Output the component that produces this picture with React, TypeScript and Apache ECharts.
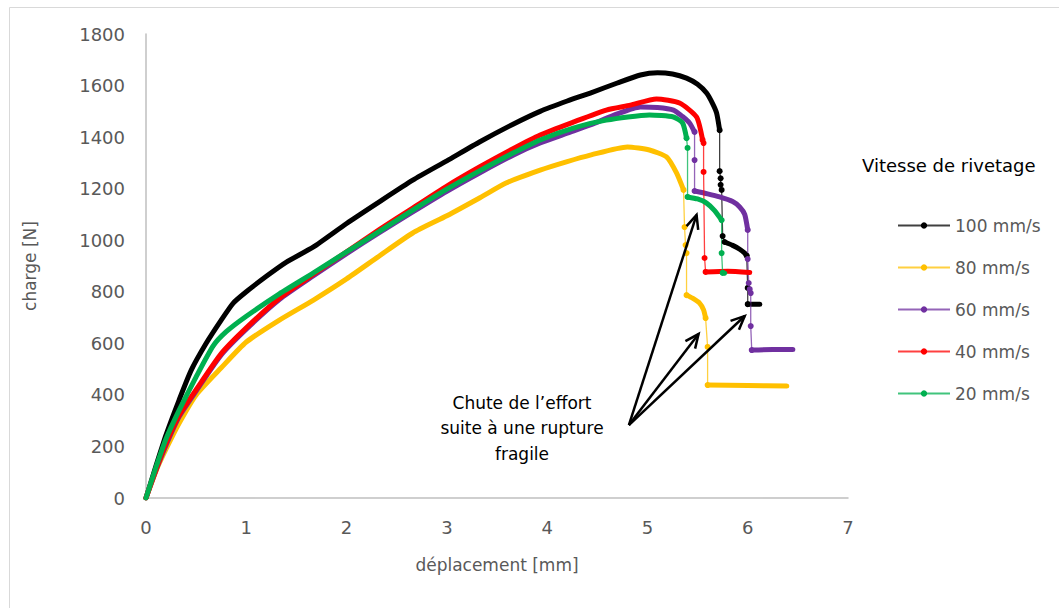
import React, { useEffect, useRef } from "react";
import * as echarts from "echarts";

const FONT = "DejaVu Sans";

const speeds = ["100 mm/s", "80 mm/s", "60 mm/s", "40 mm/s", "20 mm/s"];
const colors = ["#000000", "#FFC000", "#7030A0", "#FF0000", "#00B050"];

// 100 mm/s
const curve100a = [[0,0],[0.1,125],[0.2,245],[0.33,380],[0.45,495],[0.6,600],[0.75,690],[0.87,756],[1.0,800],[1.2,860],[1.4,915],[1.67,974],[2.0,1065],[2.33,1150],[2.66,1233],[3.0,1308],[3.33,1382],[3.66,1450],[3.93,1500],[4.2,1540],[4.43,1571],[4.7,1610],[4.93,1641],[5.1,1650],[5.25,1645],[5.39,1629],[5.5,1605],[5.59,1571],[5.65,1530],[5.69,1493],[5.72,1427]];
const drop100a = [[5.72,1427],[5.72,1268],[5.73,1240],[5.73,1215],[5.74,1195],[5.75,1016],[5.77,993]];
const curve100b = [[5.77,993],[5.85,980],[5.92,965],[5.97,950],[5.99,940]];
const drop100b = [[5.99,940],[6.0,815],[6.0,752]];
const curve100c = [[6.0,752],[6.12,752]];

// 80 mm/s
const curve80a = [[0,0],[0.1,105],[0.2,190],[0.33,290],[0.5,400],[0.75,505],[1.0,605],[1.33,690],[1.67,768],[2.0,850],[2.33,940],[2.66,1028],[3.0,1095],[3.33,1165],[3.59,1222],[3.93,1272],[4.2,1305],[4.43,1330],[4.8,1362],[5.02,1350],[5.19,1323],[5.29,1261],[5.36,1195]];
const drop80a = [[5.36,1195],[5.37,1051],[5.38,981],[5.39,950],[5.39,787]];
const curve80b = [[5.39,787],[5.45,775],[5.52,756],[5.56,730],[5.58,698]];
const drop80b = [[5.58,698],[5.6,586],[5.6,438]];
const curve80c = [[5.6,438],[6.0,436],[6.39,434]];

// 60 mm/s
const curve60a = [[0,0],[0.1,108],[0.2,205],[0.33,315],[0.5,415],[0.75,555],[1.0,655],[1.33,770],[1.67,862],[2.0,948],[2.33,1030],[2.66,1110],[3.0,1190],[3.33,1262],[3.66,1330],[3.93,1377],[4.2,1415],[4.43,1447],[4.7,1490],[4.93,1517],[5.1,1515],[5.26,1505],[5.35,1480],[5.42,1455],[5.47,1420]];
const drop60a = [[5.47,1420],[5.47,1311],[5.47,1191]];
const curve60b = [[5.47,1191],[5.6,1180],[5.72,1168],[5.85,1150],[5.92,1129],[5.97,1100],[6.0,1040]];
const drop60b = [[6.0,1040],[6.0,927],[6.01,834],[6.02,810],[6.03,795],[6.03,667],[6.04,574]];
const curve60c = [[6.04,574],[6.25,576],[6.45,576]];

// 40 mm/s
const curve40a = [[0,0],[0.1,110],[0.2,212],[0.33,320],[0.5,420],[0.75,560],[1.0,660],[1.33,775],[1.67,868],[2.0,955],[2.33,1042],[2.66,1125],[3.0,1210],[3.33,1285],[3.66,1355],[3.93,1408],[4.26,1458],[4.59,1505],[4.83,1524],[5.09,1548],[5.32,1532],[5.49,1478],[5.55,1389]];
const drop40a = [[5.55,1389],[5.56,1377],[5.56,1265],[5.57,931],[5.58,877]];
const curve40b = [[5.58,877],[5.8,880],[6.02,875]];

// 20 mm/s
const curve20a = [[0,0],[0.1,120],[0.2,230],[0.33,340],[0.5,470],[0.67,590],[0.8,645],[1.0,705],[1.33,792],[1.67,873],[2.0,955],[2.33,1035],[2.66,1117],[3.0,1198],[3.33,1270],[3.66,1338],[3.93,1389],[4.26,1435],[4.59,1466],[5.02,1486],[5.26,1478],[5.35,1455],[5.39,1396]];
const drop20a = [[5.39,1396],[5.40,1358],[5.40,1168]];
const curve20b = [[5.40,1168],[5.5,1160],[5.59,1144],[5.67,1115],[5.74,1078]];
const drop20b = [[5.74,1078],[5.74,950],[5.75,873]];
const curve20c = [[5.75,875],[5.77,872]];

const parts100 = [curve100a, drop100a, curve100b, drop100b, curve100c];
const parts80 = [curve80a, drop80a, curve80b, drop80b, curve80c];
const parts60 = [curve60a, drop60a, curve60b, drop60b, curve60c];
const parts40 = [curve40a, drop40a, curve40b];
const parts20 = [curve20a, drop20a, curve20b, drop20b, curve20c];
const allParts = [parts100, parts80, parts60, parts40, parts20];

// annotation
const annotationLines = ["Chute de l\u2019effort", "suite à une rupture", "fragile"];
const arrowFrom = [4.815, 283];
const arrowTips = [[5.49, 1098], [5.51, 636], [5.97, 706]];
const legendTitle = "Vitesse de rivetage";

function buildSeries() {
  const out: any[] = [];
  allParts.forEach((parts, si) => {
    const color = colors[si];
    parts.forEach((p, pi) => {
      if (pi % 2 === 0) {
        out.push({
          name: speeds[si] + "#" + pi,
          type: "line",
          data: p,
          showSymbol: false,
          symbol: "none",
          silent: true,
          smooth: 0.2,
          lineStyle: { color, width: 5, cap: "round", join: "round" },
          itemStyle: { color },
        });
      }
    });
    const path: any[] = [];
    parts.forEach((p, pi) => {
      p.forEach((pt) => {
        path.push(pi % 2 === 1 ? { value: pt, symbol: "circle" } : { value: pt, symbol: "none" });
      });
    });
    out.push({
      name: speeds[si],
      type: "line",
      data: path,
      showSymbol: true,
      symbol: "circle",
      symbolSize: 6,
      lineStyle: { color, width: 1.3, opacity: 0.75 },
      itemStyle: { color },
    });
  });
  out.push({
    type: "custom",
    name: "arrows",
    silent: true,
    data: arrowTips.map((t) => [arrowFrom[0], arrowFrom[1], t[0], t[1]]),
    encode: { x: [0, 2], y: [1, 3] },
    renderItem: (params: any, api: any) => {
      const p0 = api.coord([api.value(0), api.value(1)]);
      const p1 = api.coord([api.value(2), api.value(3)]);
      const ang = Math.atan2(p1[1] - p0[1], p1[0] - p0[0]);
      const L = 15;
      const a = 0.42;
      const h1 = [p1[0] - L * Math.cos(ang - a), p1[1] - L * Math.sin(ang - a)];
      const h2 = [p1[0] - L * Math.cos(ang + a), p1[1] - L * Math.sin(ang + a)];
      return {
        type: "group",
        children: [
          { type: "line", shape: { x1: p0[0], y1: p0[1], x2: p1[0], y2: p1[1] }, style: { stroke: "#000", lineWidth: 2.5 } },
          { type: "polyline", shape: { points: [h1, p1, h2] }, style: { stroke: "#000", lineWidth: 2.5, fill: null } },
        ],
      };
    },
    z: 10,
  });
  return out;
}

export default function App() {
  const ref = useRef<HTMLDivElement>(null);
  useEffect(() => {
    if (!ref.current) return;
    const chart = echarts.init(ref.current, null, { renderer: "svg" });
    const axisLine = { show: true, lineStyle: { color: "#bfbfbf", width: 1.5 } };
    chart.setOption({
      animation: false,
      backgroundColor: "#ffffff",
      grid: { left: 146, right: 211, top: 34, bottom: 110 },
      xAxis: {
        type: "value", min: 0, max: 7, interval: 1,
        axisLine, axisTick: { show: false }, splitLine: { show: false },
        axisLabel: { color: "#595959", fontSize: 18, margin: 20, fontFamily: FONT },
        name: "déplacement [mm]", nameLocation: "middle", nameGap: 58,
        nameTextStyle: { color: "#595959", fontSize: 17, fontFamily: FONT },
      },
      yAxis: {
        type: "value", min: 0, max: 1800, interval: 200,
        axisLine, axisTick: { show: false }, splitLine: { show: false },
        axisLabel: { color: "#595959", fontSize: 18, margin: 21, fontFamily: FONT, formatter: (v: number) => String(v) },
        name: "charge [N]", nameLocation: "middle", nameRotate: 90, nameGap: 108,
        nameTextStyle: { color: "#595959", fontSize: 17, fontFamily: FONT },
      },
      legend: {
        data: speeds,
        orient: "vertical",
        left: 892, top: 212,
        itemWidth: 52, itemHeight: 8, itemGap: 25,
        textStyle: { color: "#595959", fontSize: 17, fontFamily: FONT },
      },
      graphic: [
        { type: "rect", left: 7, top: 5, shape: { width: 1100, height: 700 }, style: { fill: "none", stroke: "#d9d9d9", lineWidth: 1 }, silent: true, z: -10 },
        { type: "text", x: 862, y: 165, style: { text: legendTitle, fill: "#000", font: `18px "${FONT}"`, textVerticalAlign: "middle" } },
        { type: "text", x: 522, y: 428, style: { text: annotationLines.join("\n"), fill: "#000", font: `17px "${FONT}"`, textAlign: "center", textVerticalAlign: "middle", lineHeight: 25.5 } },
      ],
      series: buildSeries(),
    });
    return () => chart.dispose();
  }, []);
  return <div ref={ref} style={{ position: "absolute", left: 0, top: 0, width: 1059, height: 608 }} />;
}
